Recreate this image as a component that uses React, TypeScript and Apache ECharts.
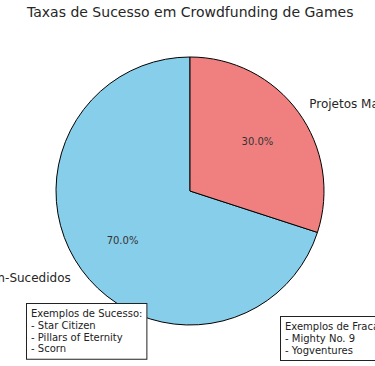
import React, { useEffect, useRef } from "react";
import * as echarts from "echarts";

const categories = ["Projetos Bem-Sucedidos", "Projetos Mal-Sucedidos"];
const values = [70, 30];
const colors = ["#87CEEB", "#F08080"];
const successExamples = ["Star Citizen", "Pillars of Eternity", "Scorn"];
const failureExamples = ["Mighty No. 9", "Yogventures"];

const FONT = "DejaVu Sans";
const R = 134;

export default function App() {
  const ref = useRef<HTMLDivElement>(null);
  useEffect(() => {
    if (!ref.current) return;
    const chart = echarts.init(ref.current, undefined, { renderer: "svg" });
    const data = categories.map((name, i) => ({
      name,
      value: values[i],
      itemStyle: { color: colors[i] },
    }));
    chart.setOption({
      animation: false,
      title: {
        text: "Taxas de Sucesso em Crowdfunding de Games",
        left: 27,
        top: 5,
        padding: 0,
        textStyle: { fontSize: 14, fontWeight: "normal", fontFamily: FONT, color: "#262626" },
      },
      series: [
        {
          type: "pie",
          center: [190, 191],
          radius: R,
          startAngle: 90,
          clockwise: false,
          avoidLabelOverlap: false,
          silent: true,
          itemStyle: { borderColor: "#000", borderWidth: 1 },
          label: {
            show: true,
            position: "outside",
            formatter: "{b}",
            fontFamily: FONT,
            fontSize: 12,
            color: "#262626",
            distanceToLabelLine: 0,
          },
          labelLine: { show: false, length: R * 0.1, length2: 0 },
          data,
        },
        {
          type: "pie",
          center: [190, 191],
          radius: R * 1.2,
          startAngle: 90,
          clockwise: false,
          avoidLabelOverlap: false,
          silent: true,
          itemStyle: { color: "transparent", borderWidth: 0 },
          label: {
            show: true,
            position: "inside",
            formatter: (p: any) => p.percent.toFixed(1) + "%",
            fontFamily: FONT,
            fontSize: 10,
            color: "#333",
          },
          labelLine: { show: false },
          data: categories.map((name, i) => ({
            name,
            value: values[i],
            itemStyle: { color: "transparent" },
          })),
        },
      ],
      graphic: [
        {
          type: "text",
          left: 26,
          top: 303,
          z: 100,
          style: {
            text: "Exemplos de Sucesso:\n" + successExamples.map((s) => "- " + s).join("\n"),
            font: `10px ${FONT}`,
            fill: "#222",
            lineHeight: 11.7,
            backgroundColor: "#fff",
            borderColor: "#222",
            borderWidth: 1,
            padding: [4, 4, 4, 4],
          },
        },
        {
          type: "text",
          left: 280,
          top: 316,
          z: 100,
          style: {
            text: "Exemplos de Fracasso:\n" + failureExamples.map((s) => "- " + s).join("\n"),
            font: `10px ${FONT}`,
            fill: "#222",
            lineHeight: 11.7,
            backgroundColor: "#fff",
            borderColor: "#222",
            borderWidth: 1,
            padding: [4, 4, 4, 4],
          },
        },
      ],
    });
    return () => chart.dispose();
  }, []);
  return (
    <div
      ref={ref}
      style={{ position: "fixed", left: 0, top: 0, width: 375, height: 366, background: "#fff" }}
    />
  );
}
